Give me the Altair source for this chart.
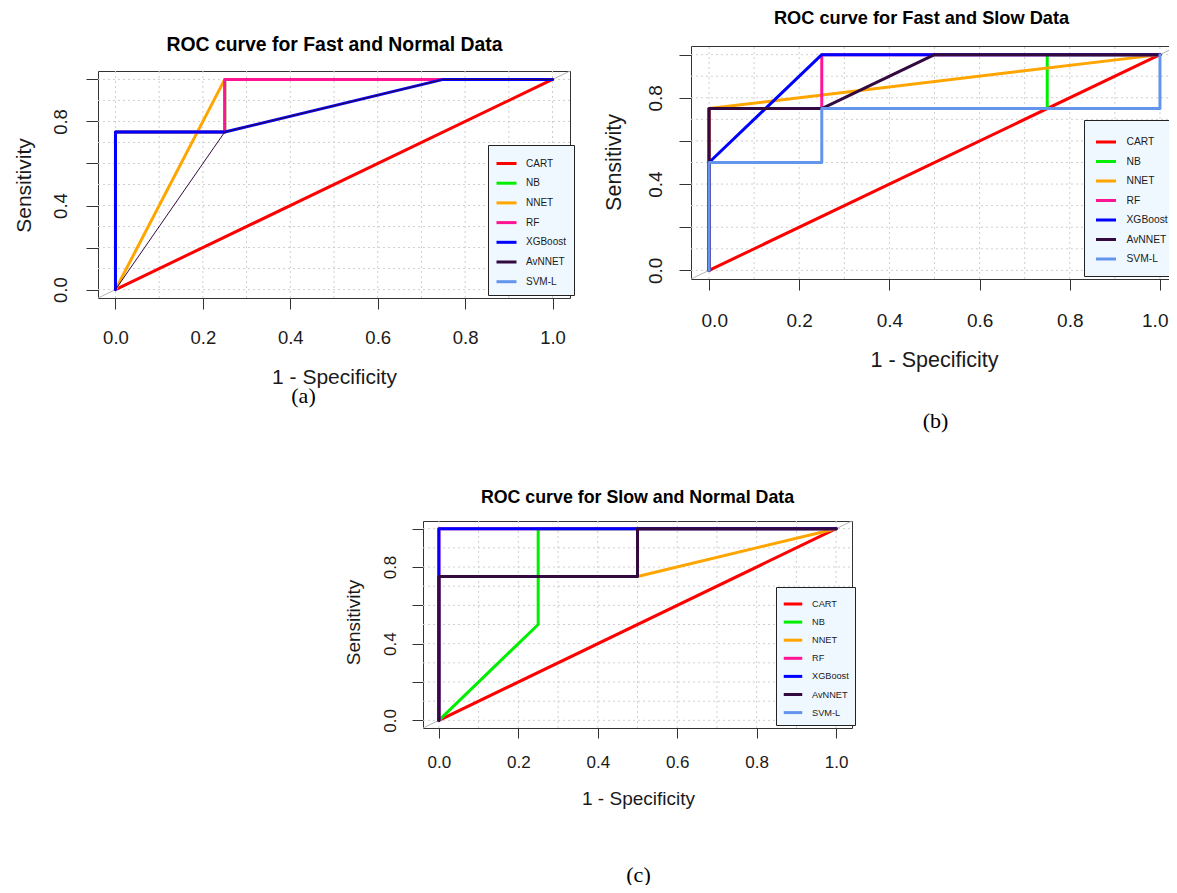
import altair as alt
import pandas as pd

# ---------------- data ----------------
MODELS = ["CART", "NB", "NNET", "RF", "XGBoost", "AvNNET", "SVM-L"]
COLORS = ["#FF0000", "#00EE00", "#FFA500", "#FF1493", "#0000FF", "#330A3F", "#6495ED"]

TICKS = [0.0, 0.2, 0.4, 0.6, 0.8, 1.0]
GRID = [0.0, 0.1, 0.2, 0.3, 0.4, 0.5, 0.6, 0.7, 0.8, 0.9, 1.0]
LIMITS = [-0.04, 1.04]

TITLES = {
    "a": "ROC curve for Fast and Normal Data",
    "b": "ROC curve for Fast and Slow Data",
    "c": "ROC curve for Slow and Normal Data",
}
CAPTIONS = {"a": "(a)", "b": "(b)", "c": "(c)"}

# (a) Fast vs Normal: 1 - specificity (FPR) and sensitivity (TPR)
A_FPR = {
    "CART": [0.0, 1.0],
    "NB": [0.0, 0.0, 0.25, 0.25, 1.0],
    "NNET": [0.0, 0.25, 1.0],
    "RF": [0.0, 0.0, 0.25, 0.25, 1.0],
    "XGBoost": [0.0, 0.0, 0.25, 0.75, 1.0],
    "AvNNET": [0.0, 0.25, 0.75, 1.0],
}
A_TPR = {
    "CART": [0.0, 1.0],
    "NB": [0.0, 0.75, 0.75, 1.0, 1.0],
    "NNET": [0.0, 1.0, 1.0],
    "RF": [0.0, 0.75, 0.75, 1.0, 1.0],
    "XGBoost": [0.0, 0.75, 0.75, 1.0, 1.0],
    "AvNNET": [0.0, 0.75, 1.0, 1.0],
}

# (b) Fast vs Slow
B_FPR = {
    "CART": [0.0, 1.0],
    "NB": [0.0, 0.0, 0.75, 0.75, 1.0],
    "NNET": [0.0, 0.0, 1.0],
    "RF": [0.0, 0.0, 0.25, 0.25, 1.0],
    "XGBoost": [0.0, 0.0, 0.25, 1.0],
    "AvNNET": [0.0, 0.0, 0.25, 0.5, 1.0],
    "SVM-L": [0.0, 0.0, 0.25, 0.25, 1.0, 1.0],
}
B_TPR = {
    "CART": [0.0, 1.0],
    "NB": [0.0, 0.75, 0.75, 1.0, 1.0],
    "NNET": [0.0, 0.75, 1.0],
    "RF": [0.0, 0.75, 0.75, 1.0, 1.0],
    "XGBoost": [0.0, 0.5, 1.0, 1.0],
    "AvNNET": [0.0, 0.75, 0.75, 1.0, 1.0],
    "SVM-L": [0.0, 0.5, 0.5, 0.75, 0.75, 1.0],
}

# (c) Slow vs Normal
C_FPR = {
    "CART": [0.0, 1.0],
    "NB": [0.0, 0.25, 0.25, 1.0],
    "NNET": [0.0, 0.0, 0.5, 1.0],
    "RF": [0.0, 0.0, 1.0],
    "XGBoost": [0.0, 0.0, 1.0],
    "AvNNET": [0.0, 0.0, 0.5, 0.5, 1.0],
}
C_TPR = {
    "CART": [0.0, 1.0],
    "NB": [0.0, 0.5, 1.0, 1.0],
    "NNET": [0.0, 0.75, 0.75, 1.0],
    "RF": [0.0, 1.0, 1.0],
    "XGBoost": [0.0, 1.0, 1.0],
    "AvNNET": [0.0, 0.75, 0.75, 1.0, 1.0],
}

# ---------------- styles / layout ----------------
W, H = 1161, 877
SANS = "Liberation Sans, Arial, sans-serif"
SERIF = "Liberation Serif, Times New Roman, serif"
INK = "#1a1a1a"
BOX = "#333333"
THIN = {("a", "AvNNET")}

LAYOUT = {
    "a": dict(box=(90, 562, 63, 290), xtick=11, ytick=12, lab=18.5, axt=21, ttl=19.4, cap=22,
              xlab_pad=28, ylab_pad=26, xt=(326, 79), yt=(-74, 177), tt=(326, -27), ct=(295, 97),
              flush=False,
              leg=dict(x=480, y=137, pad=7, rowpad=1.7, line=20, font=10, loff=8)),
    "b": dict(box=(683, 1170, 38, 271), xtick=11, ytick=12, lab=19, axt=21.5, ttl=18.2, cap=22,
              xlab_pad=30, ylab_pad=24, xt=(926, 81), yt=(-77, 154), tt=(913, -28), ct=(927, 141),
              flush=True,
              leg=dict(x=1076, y=112, pad=10.5, rowpad=1.5, line=20, font=10.3, loff=9)),
    "c": dict(box=(415, 844, 513, 720), xtick=10, ytick=11, lab=17, axt=19, ttl=17.8, cap=22,
              xlab_pad=24, ylab_pad=22, xt=(630, 70), yt=(-70, 614), tt=(629, -24), ct=(630, 146),
              flush=False,
              leg=dict(x=768, y=579, pad=6, rowpad=1.1, line=18.5, font=9.2, loff=8)),
}
LINE_W = 3


def rows(key, fpr, tpr, thin):
    out = []
    for m in MODELS:
        if m not in fpr or ((key, m) in THIN) != thin:
            continue
        for i, (x, y) in enumerate(zip(fpr[m], tpr[m])):
            out.append({"model": m, "i": i, "fpr": x, "tpr": y})
    return pd.DataFrame(out)


def panel(key, fpr, tpr):
    L = LAYOUT[key]
    left, right, top, bottom = L["box"]
    xs = alt.Scale(domain=LIMITS, range=[left, right], nice=False, zero=False)
    ys = alt.Scale(domain=LIMITS, range=[bottom, top], nice=False, zero=False)

    if L["flush"]:
        # keep the end labels inside the page: flush-adjust labels near the range ends
        label_args = dict(labelFlush=25, labelFlushOffset=8)
    else:
        label_args = dict(labelFlush=False, labelAlign="center")
    x_main = alt.Axis(
        orient="bottom", offset=bottom - H, values=TICKS, format=".1f",
        tickSize=L["xtick"], tickColor=BOX, tickWidth=1,
        domain=True, domainColor=BOX, domainWidth=1, grid=False,
        labelFont=SANS, labelFontSize=L["lab"], labelColor=INK, labelPadding=L["xlab_pad"],
        labelBaseline="middle", labelOverlap=False, **label_args,
        title="1 - Specificity", titleFont=SANS, titleFontSize=L["axt"], titleFontWeight="normal",
        titleColor=INK, titleX=L["xt"][0], titleY=L["xt"][1], titleBaseline="middle", titleAlign="center",
    )
    y_main = alt.Axis(
        orient="left", offset=-left, values=TICKS,
        labelExpr="round(datum.value * 10) % 4 == 0 ? format(datum.value, '.1f') : ''",
        tickSize=L["ytick"], tickColor=BOX, tickWidth=1,
        domain=True, domainColor=BOX, domainWidth=1, grid=False,
        labelFont=SANS, labelFontSize=L["lab"], labelColor=INK, labelPadding=L["ylab_pad"],
        labelAngle=270, labelBaseline="middle", labelAlign="center", labelFlush=False, labelOverlap=False,
        title="Sensitivity", titleFont=SANS, titleFontSize=L["axt"], titleFontWeight="normal",
        titleColor=INK, titleAngle=270, titleX=L["yt"][0], titleY=L["yt"][1],
        titleBaseline="middle", titleAlign="center",
    )
    x_top = alt.Axis(
        orient="top", offset=-top, ticks=False, labels=False, grid=False,
        domain=True, domainColor=BOX, domainWidth=1,
        title=TITLES[key], titleFont=SANS, titleFontSize=L["ttl"], titleFontWeight="bold",
        titleColor="#000000", titleX=L["tt"][0], titleY=L["tt"][1], titleBaseline="middle", titleAlign="center",
    )
    y_right = alt.Axis(
        orient="right", offset=right - W, ticks=False, labels=False, grid=False,
        domain=True, domainColor=BOX, domainWidth=1, title=None,
    )
    x_cap = alt.Axis(
        orient="bottom", offset=bottom - H, ticks=False, labels=False, grid=False, domain=False,
        title=CAPTIONS[key], titleFont=SERIF, titleFontSize=L["cap"], titleFontWeight="normal",
        titleColor="#000000", titleX=L["ct"][0], titleY=L["ct"][1], titleBaseline="middle", titleAlign="center",
    )

    lg = L["leg"]
    legend = alt.Legend(
        orient="none", legendX=lg["x"], legendY=lg["y"], title=None,
        fillColor="#F0F8FF", strokeColor="#222222", padding=lg["pad"],
        symbolType="stroke", symbolSize=lg["line"] ** 2, symbolStrokeWidth=LINE_W,
        rowPadding=lg["rowpad"], labelOffset=lg["loff"],
        labelFont=SANS, labelFontSize=lg["font"], labelColor=INK, labelLimit=200,
    )
    cscale = alt.Scale(domain=MODELS, range=COLORS)

    grid_df = pd.DataFrame({"g": GRID, "lo": LIMITS[0], "hi": LIMITS[1]})
    diag_df = pd.DataFrame({"d": LIMITS})

    vgrid = alt.Chart(grid_df).mark_rule(color="#CFCFCF", strokeDash=[2, 3], strokeWidth=1).encode(
        x=alt.X("g:Q", scale=xs, axis=x_main),
        y=alt.Y("lo:Q", scale=ys, axis=None),
        y2="hi:Q",
    )
    hgrid = alt.Chart(grid_df).mark_rule(color="#CFCFCF", strokeDash=[2, 3], strokeWidth=1).encode(
        y=alt.Y("g:Q", scale=ys, axis=y_main),
        x=alt.X("lo:Q", scale=xs, axis=None),
        x2="hi:Q",
    )
    diag = alt.Chart(diag_df).mark_line(color="#B4B4B4", strokeWidth=1).encode(
        x=alt.X("d:Q", scale=xs, axis=x_top),
        y=alt.Y("d:Q", scale=ys, axis=y_right),
    )
    thick = alt.Chart(rows(key, fpr, tpr, False)).mark_line(
        strokeWidth=LINE_W, strokeCap="round", strokeJoin="round"
    ).encode(
        x=alt.X("fpr:Q", scale=xs, axis=x_cap),
        y=alt.Y("tpr:Q", scale=ys, axis=None),
        color=alt.Color("model:N", scale=cscale, legend=legend),
        order=alt.Order("i:Q"),
    )
    layers = [vgrid, hgrid, diag, thick]
    thin_df = rows(key, fpr, tpr, True)
    if len(thin_df):
        thin = alt.Chart(thin_df).mark_line(strokeWidth=1, strokeCap="round", strokeJoin="round").encode(
            x=alt.X("fpr:Q", scale=xs, axis=None),
            y=alt.Y("tpr:Q", scale=ys, axis=None),
            color=alt.Color("model:N", scale=cscale, legend=None),
            order=alt.Order("i:Q"),
        )
        layers.append(thin)
    return alt.layer(*layers).resolve_axis(x="independent", y="independent")


chart = alt.layer(
    panel("a", A_FPR, A_TPR),
    panel("b", B_FPR, B_TPR),
    panel("c", C_FPR, C_TPR),
).resolve_scale(
    x="independent", y="independent", color="independent"
).resolve_axis(
    x="independent", y="independent"
).resolve_legend(
    color="independent"
).properties(
    width=W, height=H, autosize=alt.AutoSizeParams(type="none"), padding=0,
    background="white",
).configure_view(strokeWidth=0)

chart.save("out.html", embed_options={"renderer": "svg", "actions": False})
